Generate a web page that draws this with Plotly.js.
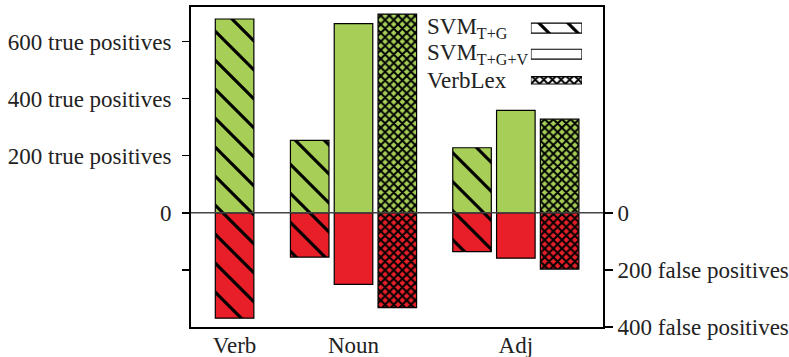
<!DOCTYPE html>
<html><head><meta charset="utf-8">
<script src="https://cdn.plot.ly/plotly-3.0.1.min.js"></script>
<style>html,body{margin:0;padding:0;background:#fff;} #chart{width:789px;height:357px;}</style>
</head><body><div id="chart"></div>
<script>
// ---- data ----
const categories = ['Verb', 'Noun', 'Adj'];
const seriesNames = ['SVM<sub>T+G</sub>', 'SVM<sub>T+G+V</sub>', 'VerbLex'];
const truePosSvmTG = [679, 254, 228];
const truePosSvmTGV = [null, 663, 359];
const truePosVerbLex = [null, 696, 328];
const falsePosSvmTG = [369, 155, 136];
const falsePosSvmTGV = [null, 251, 159];
const falsePosVerbLex = [null, 332, 197];
const leftTickVals = [600, 400, 200, 0];
const leftTickText = ['600 true positives', '400 true positives', '200 true positives', '0'];
const leftMinorTickVals = [-200];
const rightTickVals = [0, -200, -400];
const rightTickText = ['0', '200 false positives', '400 false positives'];

// ---- layout / style ----
const truePos = [truePosSvmTG, truePosSvmTGV, truePosVerbLex];
const falsePos = [falsePosSvmTG, falsePosSvmTGV, falsePosVerbLex];
const groupStart = [0.995, 2.71, 6.416];
const barWidth = 0.88;
const GREEN = '#a7cf57', RED = '#e81f28';
const patterns = [
  {shape: '\\', size: 20.5, solidity: 0.15},
  {shape: '', size: 8, solidity: 0.3},
  {shape: 'x', size: 6.1, solidity: 0.55}
];
const FONT = {family: '"Liberation Serif", "Times New Roman", serif', size: 23, color: '#222'};

function barTrace(name, xs, ys, color, p) {
  return {
    type: 'bar', name: name, x: xs, y: ys, width: barWidth,
    marker: {
      color: color, line: {color: 'black', width: 1.2},
      pattern: {shape: p.shape, size: p.size, solidity: p.solidity,
        fillmode: 'overlay', fgcolor: 'black', bgcolor: color, fgopacity: 1}
    },
    hoverinfo: 'skip', showlegend: false
  };
}

const traces = [];
seriesNames.forEach((name, s) => {
  const xs = groupStart.map(g => g + s);
  traces.push(barTrace(name, xs, truePos[s], GREEN, patterns[s]));
  traces.push(barTrace(name, xs, falsePos[s].map(v => v == null ? null : -v), RED, patterns[s]));
  // legend swatch
  traces.push({
    type: 'bar', orientation: 'h', xaxis: 'x3', yaxis: 'y3',
    x: [1], y: [s], base: 0, width: s === 2 ? 0.28 : 0.38,
    marker: {
      color: 'white', line: {color: 'black', width: 1.2},
      pattern: {shape: patterns[s].shape, size: patterns[s].size, solidity: patterns[s].solidity,
        fillmode: 'overlay', fgcolor: 'black', bgcolor: 'white', fgopacity: 1}
    },
    hoverinfo: 'skip', showlegend: false
  });
});

const tickPos = groupStart.map((g, i) => {
  const present = truePos.map((arr, s) => arr[i] == null ? null : g + s).filter(v => v != null);
  return present.reduce((a, b) => a + b, 0) / present.length;
});

const layout = {
  width: 789, height: 357,
  margin: {l: 191, r: 186, t: 7, b: 30},
  paper_bgcolor: 'white', plot_bgcolor: 'white',
  barmode: 'overlay', showlegend: false,
  font: FONT,
  xaxis: {range: [0, 9.406], tickvals: tickPos, ticktext: categories, ticks: '',
    showline: true, mirror: true, linecolor: 'black', linewidth: 2, ticklabelstandoff: -4,
    showgrid: false, zeroline: false, tickfont: FONT, fixedrange: true},
  yaxis: {range: [-400, 721], tickvals: leftTickVals, ticktext: leftTickText,
    ticks: 'outside', ticklen: 7, tickwidth: 1.5, tickcolor: 'black', ticklabelstandoff: 6,
    minor: {tickvals: leftMinorTickVals, ticks: 'outside', ticklen: 7, tickwidth: 1.5, tickcolor: 'black', showgrid: false},
    showline: true, linecolor: 'black', linewidth: 2,
    showgrid: false, zeroline: false, tickfont: FONT},
  yaxis2: {range: [-400, 721], overlaying: 'y', side: 'right', anchor: 'x',
    tickvals: rightTickVals, ticktext: rightTickText,
    ticks: 'outside', ticklen: 8, tickwidth: 1.5, tickcolor: 'black',
    showline: true, linecolor: 'black', linewidth: 2,
    showgrid: false, zeroline: false, tickfont: FONT},
  xaxis3: {domain: [0.825, 0.949], anchor: 'y3', range: [0, 1], visible: false},
  yaxis3: {domain: [0.730, 0.975], anchor: 'x3', range: [2.5, -0.5], visible: false},
  shapes: [{type: 'line', xref: 'paper', x0: 0, x1: 1, yref: 'y', y0: 0, y1: 0,
    line: {color: '#444', width: 1.5}, layer: 'above'}],
  annotations: seriesNames.map((n, i) => ({
    xref: 'paper', yref: 'y3', x: 0.568, y: i, xanchor: 'left', yanchor: 'middle',
    text: n, showarrow: false, font: FONT
  }))
};

// dummy trace to activate right axis
traces.push({type: 'scatter', x: [null], y: [null], yaxis: 'y2', xaxis: 'x', hoverinfo: 'skip', showlegend: false});

Plotly.newPlot('chart', traces, layout, {staticPlot: true, displayModeBar: false});
</script>
</body></html>
